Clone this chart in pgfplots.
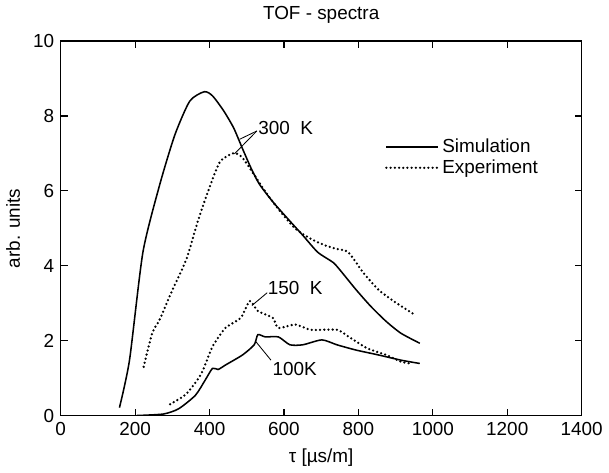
\documentclass[border=0pt]{standalone}
\usepackage{fontspec}
\setmainfont{Liberation Sans}
\usepackage{pgfplots}
\pgfplotsset{compat=1.18}

\begin{document}
\fontsize{13.5}{16}\selectfont
\begin{tikzpicture}
\begin{axis}[
    scale only axis,
    width=5.15in, height=3.7in,
    xmin=0, xmax=1400, ymin=0, ymax=10,
    xtick={0,200,...,1400},
    ytick={0,2,...,10},
    tick align=inside,
    major tick length=5pt,
    tick style={black, line width=0.8pt},
    axis line style={line width=1pt},
    /pgf/number format/assume math mode=true,
    /pgf/number format/1000 sep={},
    tick label style={font=\fontsize{13.5}{16}\selectfont},
    label style={font=\fontsize{13.5}{16}\selectfont},
    title style={font=\fontsize{13.5}{16}\selectfont, yshift=2pt},
    title={TOF - spectra},
    xlabel={τ [µs/m]},
    ylabel={arb. units},
    legend style={at={(axis cs:860,7.55)}, anchor=north west, draw=none, fill=none,
        font=\fontsize{13.5}{16}\selectfont, row sep=-1pt},
    legend cell align=left,
    legend image code/.code={\draw[#1] (0cm,0cm) -- (1.3cm,0cm);},
]
% 300 K simulation
\addplot[black, line width=1.1pt, smooth, tension=0.4] coordinates {
(158,0.21) (185,1.48) (221,4.36) (266,6.16) (307,7.5) (347,8.4) (386,8.65)
(408,8.54) (438,8.14) (465,7.68) (489,7.12) (512,6.6) (534,6.18) (570,5.71)
(610,5.26) (651,4.81) (691,4.36) (732,4.09) (752,3.87) (793,3.37) (833,2.92)
(874,2.52) (914,2.2) (965,1.93)};
\addlegendentry{Simulation}
% 300 K experiment
\addplot[black, line width=1.8pt, line cap=round, dash pattern=on 0pt off 3pt, smooth, tension=0.4] coordinates {
(223,1.3) (246,2.2) (266,2.56) (297,3.28) (338,4.18) (368,5.17) (399,6.07)
(429,6.79) (466,7.01) (489,6.88) (520,6.43) (550,5.98) (591,5.44) (631,4.99)
(672,4.72) (712,4.54) (742,4.45) (773,4.36) (813,3.82) (853,3.37) (894,3.06)
(950,2.7)};
\addlegendentry{Experiment}
% 100 K simulation
\addplot[black, line width=1.1pt, smooth, tension=0.4, forget plot] coordinates {
(205,0) (276,0.04) (317,0.18) (362,0.54) (388,0.94) (408,1.26) (423,1.23)
(443,1.35) (489,1.62) (520,1.89) (530,2.16) (550,2.1) (585,2.1) (616,1.89)
(651,1.89) (702,2.02) (742,1.89) (793,1.75) (853,1.62) (914,1.48) (965,1.39)};
% 150 K experiment
\addplot[black, line width=1.8pt, line cap=round, dash pattern=on 0pt off 3pt, smooth, tension=0.4, forget plot] coordinates {
(294,0.3) (338,0.58) (378,1.12) (408,1.84) (443,2.34) (484,2.61) (508,3.06)
(530,2.79) (570,2.61) (585,2.34) (631,2.43) (672,2.29) (742,2.29) (773,2.11)
(823,1.8) (874,1.62) (914,1.44) (940,1.39)};
% baseline along zero
\addplot[black, line width=1pt, forget plot] coordinates {(0,0) (300,0)};

% annotations
\draw[line width=0.6pt] (axis cs:527,7.6) -- (axis cs:481,7.38);
\draw[line width=0.6pt] (axis cs:527,7.6) -- (axis cs:467,6.99);
\node[anchor=west, inner sep=1pt] at (axis cs:527,7.68) {300\ \ K};
\draw[line width=0.6pt] (axis cs:555,3.28) -- (axis cs:514,2.94);
\node[anchor=west, inner sep=1pt] at (axis cs:552,3.42) {150\ \ K};
\draw[line width=0.6pt] (axis cs:565,1.48) -- (axis cs:524,1.98);
\node[anchor=west, inner sep=1pt] at (axis cs:565,1.23) {100K};
\end{axis}
\end{tikzpicture}
\end{document}
